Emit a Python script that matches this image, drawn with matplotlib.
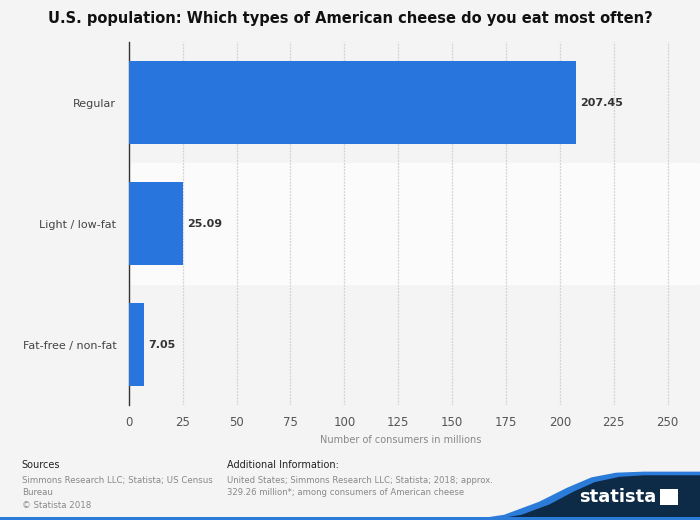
import matplotlib.pyplot as plt
from matplotlib.patches import Polygon, Rectangle

# --- data ---
categories = ['Regular', 'Light / low-fat', 'Fat-free / non-fat']
values = [207.45, 25.09, 7.05]
xticks = [0, 25, 50, 75, 100, 125, 150, 175, 200, 225, 250]

BG = '#f4f4f4'
BAR = '#2876dd'

fig = plt.figure(figsize=(7, 5.2), dpi=100, facecolor=BG)
ax = fig.add_axes([0.184, 0.221, 0.776, 0.698])
ax.set_facecolor(BG)

ypos = list(range(len(categories)))
# alternating row bands (middle row lighter), extend to right edge
for i in ypos:
    if i % 2 == 1:
        ax.axhspan(i - 0.5, i + 0.5, xmin=0, xmax=1.05, color='#fbfbfb', zorder=0, clip_on=False)

ax.barh(ypos, values, height=0.68, color=BAR, zorder=3)
for y, v in zip(ypos, values):
    ax.text(v + 2, y, f'{v:.2f}', va='center', ha='left', fontsize=8,
            fontweight='bold', color='#333333', zorder=4)

ax.set_xlim(0, 252)
ax.set_ylim(len(categories) - 0.5, -0.5)
ax.set_yticks(ypos)
ax.set_yticklabels(categories, fontsize=8, color='#444444')
ax.set_xticks(xticks)
ax.set_xticklabels([str(t) for t in xticks], fontsize=8.5, color='#555555')
ax.tick_params(axis='x', length=0, pad=8)
ax.tick_params(axis='y', length=0, pad=9)
ax.xaxis.grid(True, color='#d2d2d2', linestyle=(0, (1.5, 1)), linewidth=0.9, zorder=1)
ax.set_axisbelow(True)
for s in ['top', 'right', 'bottom']:
    ax.spines[s].set_visible(False)
ax.spines['left'].set_color('#333333')
ax.spines['left'].set_linewidth(1)
ax.set_xlabel('Number of consumers in millions', fontsize=7, color='#888888', labelpad=4)

fig.text(0.5, 0.965, 'U.S. population: Which types of American cheese do you eat most often?',
         ha='center', va='center', fontsize=10.5, fontweight='bold', color='#111111')

# footer
fig.text(0.031, 0.106, 'Sources', fontsize=7, color='#222222', va='center')
fig.text(0.031, 0.085, 'Simmons Research LLC; Statista; US Census\nBureau\n\u00a9 Statista 2018',
         fontsize=6.2, color='#888888', va='top', linespacing=1.5)
fig.text(0.324, 0.106, 'Additional Information:', fontsize=7, color='#222222', va='center')
fig.text(0.324, 0.085, 'United States; Simmons Research LLC; Statista; 2018; approx.\n329.26 million*; among consumers of American cheese',
         fontsize=6.1, color='#888888', va='top', linespacing=1.5)

# statista wave logo
wave_blue = Polygon([(0.67, 0.0), (0.72, 0.01), (0.77, 0.035), (0.81, 0.062), (0.845, 0.082),
                     (0.88, 0.091), (0.92, 0.093), (1.0, 0.093), (1.0, 0.0)],
                    closed=True, transform=fig.transFigure, facecolor='#2b7bd9', edgecolor='none')
wave_dark = Polygon([(0.70, 0.0), (0.745, 0.01), (0.785, 0.03), (0.82, 0.055), (0.85, 0.073),
                     (0.885, 0.083), (0.92, 0.086), (1.0, 0.086), (1.0, 0.0)],
                    closed=True, transform=fig.transFigure, facecolor='#0d2a47', edgecolor='none')
fig.patches.extend([wave_blue, wave_dark])
fig.patches.append(Rectangle((0, 0), 1, 0.006, transform=fig.transFigure,
                             facecolor='#2b7bd9', edgecolor='none'))
fig.text(0.937, 0.044, 'statista', fontsize=13, fontweight='bold', color='white',
         ha='right', va='center')
fig.patches.append(Polygon([(0.943, 0.029), (0.969, 0.029), (0.969, 0.06), (0.943, 0.06)],
                           closed=True, transform=fig.transFigure,
                           facecolor='white', edgecolor='none'))

fig.savefig('out.png', dpi=100, facecolor=BG)
